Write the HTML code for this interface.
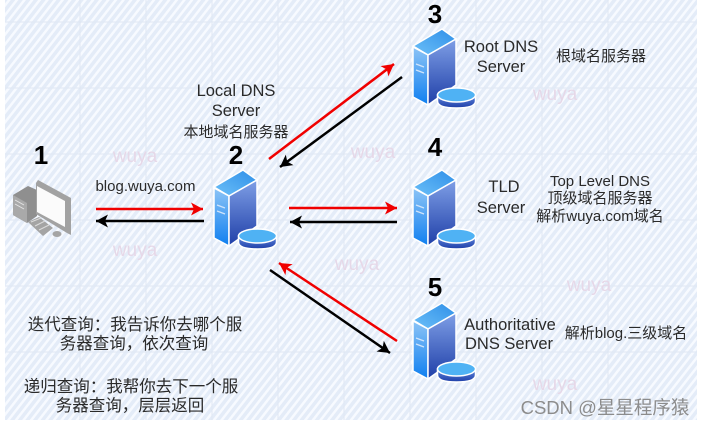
<!DOCTYPE html>
<html><head><meta charset="utf-8">
<style>
html,body{margin:0;padding:0;background:#fff}
svg{display:block}
text{font-family:"Liberation Sans","Noto Sans CJK SC",sans-serif;fill:#2a2a2a;font-size:16.500px;text-anchor:middle}
.n{font-size:26px;font-weight:bold;fill:#000}
.w{font-size:19px;fill:#e6d8e8;font-weight:normal}
.c{font-size:15px}
</style></head><body>
<svg width="706" height="426" viewBox="0 0 706 426" xmlns="http://www.w3.org/2000/svg">
<defs>
<pattern id="st" width="6" height="6" patternUnits="userSpaceOnUse" patternTransform="rotate(38)">
<rect width="6" height="6" fill="#e4ecf8"/><rect width="2.500" height="6" fill="#f7faff"/>
</pattern>
<linearGradient id="lf" x1="0" y1="0" x2="0" y2="1"><stop offset="0" stop-color="#8cc4f6"/><stop offset="1" stop-color="#0f7ff0"/></linearGradient>
<linearGradient id="rf" x1="0" y1="0" x2="0" y2="1"><stop offset="0" stop-color="#7f9fe6"/><stop offset="1" stop-color="#1f3fa8"/></linearGradient>
<linearGradient id="tp" x1="0" y1="1" x2="1" y2="0"><stop offset="0" stop-color="#6cc0f8"/><stop offset="1" stop-color="#2f8fe8"/></linearGradient>
<linearGradient id="ds" x1="0" y1="0" x2="0" y2="1"><stop offset="0" stop-color="#5f86dc"/><stop offset="1" stop-color="#1f3fa8"/></linearGradient>
<g id="srv">
<polygon points="214,187 243,170 257,180 229,196" fill="url(#tp)" stroke="#fff" stroke-width="1.500"/>
<polygon points="214,188 229,196 229,246 214,238" fill="url(#lf)" stroke="#fff" stroke-width="1.500"/>
<polygon points="229,196 257,180 257,226 229,246" fill="url(#rf)" stroke="#fff" stroke-width="1.500"/>
<path d="M217,205l8,3M217,211l8,3" stroke="#cfe4fb" stroke-width="1.300"/>
<path d="M238.500,236v6c0,5 8,7 19,7s19,-2 19,-7v-6z" fill="url(#ds)" stroke="#fff" stroke-width="1.500"/>
<ellipse cx="257.500" cy="236" rx="19" ry="7" fill="#4fb2f4" stroke="#fff" stroke-width="1.500"/>
</g>
<marker id="ar" markerUnits="userSpaceOnUse" markerWidth="13" markerHeight="13" refX="12" refY="6.500" orient="auto"><path d="M0,0L12,6.500L0,13L3,6.500z" fill="#f00000"/></marker>
<marker id="ak" markerUnits="userSpaceOnUse" markerWidth="13" markerHeight="13" refX="12" refY="6.500" orient="auto"><path d="M0,0L12,6.500L0,13L3,6.500z" fill="#000"/></marker>
</defs>
<rect x="5" width="692" height="420" fill="url(#st)"/>
<path d="M80,0V420M146,0V420M212,0V420M278,0V420M344,0V420M410,0V420M476,0V420M542,0V420M608,0V420M5,22H697M5,88H697M5,154H697M5,220H697M5,286H697M5,352H697" stroke="#dfe7f3" stroke-width="1" fill="none"/>

<text class="w" x="135" y="162">wuya</text>
<text class="w" x="135" y="256">wuya</text>
<text class="w" x="373" y="158">wuya</text>
<text class="w" x="357" y="270">wuya</text>
<text class="w" x="555" y="100">wuya</text>
<text class="w" x="589" y="291">wuya</text>
<text class="w" x="555" y="390">wuya</text>

<!-- computer -->
<g>
<polygon points="13,195 28,186 37,190 37,216 27,223 13,215" fill="#8f8f8f"/>
<polygon points="13,195 27,203 27,223 13,215" fill="#a9a9a9"/>
<path d="M15,200l9,5M15,204l9,5" stroke="#e4e4e4" stroke-width="1"/>
<polygon points="36,183 38,180 71,198 71,235 67,233 36,214" fill="#a2a2a2"/>
<polygon points="37,186 65,201 65,227 37,212" fill="#fbfbfb"/>
<polygon points="28,222 39,217 53,228 43,236" fill="#a4a4a4"/>
<path d="M31,222l10,-4M35,226l10,-5M39,230l10,-5" stroke="#dcdcdc" stroke-width="1"/>
<ellipse cx="57" cy="234" rx="4.500" ry="3" fill="#a5a5a5"/>
</g>

<use href="#srv"/>
<use href="#srv" x="199" y="-141"/>
<use href="#srv" x="199" y="0"/>
<use href="#srv" x="199" y="133"/>

<g fill="none" stroke-width="2.500">
<line x1="96" y1="209" x2="203" y2="209" stroke="#f00000" marker-end="url(#ar)"/>
<line x1="204" y1="221" x2="96" y2="221" stroke="#000" marker-end="url(#ak)"/>
<line x1="289" y1="208" x2="397" y2="208" stroke="#f00000" marker-end="url(#ar)"/>
<line x1="397" y1="222" x2="290" y2="222" stroke="#000" marker-end="url(#ak)"/>
<line x1="269" y1="159" x2="394" y2="64" stroke="#f00000" marker-end="url(#ar)"/>
<line x1="402" y1="77" x2="280" y2="167" stroke="#000" marker-end="url(#ak)"/>
<line x1="270" y1="270" x2="390" y2="353" stroke="#000" marker-end="url(#ak)"/>
<line x1="397" y1="341" x2="279" y2="263" stroke="#f00000" marker-end="url(#ar)"/>
</g>

<text class="n" x="41" y="164">1</text>
<text class="n" x="236" y="164">2</text>
<text class="n" x="435" y="23">3</text>
<text class="n" x="435" y="156">4</text>
<text class="n" x="435" y="296">5</text>

<text x="145.500" y="191" style="font-size:15px">blog.wuya.com</text>
<text x="236" y="96">Local DNS</text>
<text x="236" y="116">Server</text>
<text class="c" x="236" y="137">本地域名服务器</text>
<text x="501" y="52">Root DNS</text>
<text x="501" y="72">Server</text>
<text class="c" x="601" y="61">根域名服务器</text>
<text x="504" y="192">TLD</text>
<text x="501" y="213">Server</text>
<text class="c" x="600" y="186">Top Level DNS</text>
<text class="c" x="600" y="203">顶级域名服务器</text>
<text class="c" x="600" y="221">解析wuya.com域名</text>
<text x="510" y="330">Authoritative</text>
<text x="509" y="349">DNS Server</text>
<text class="c" x="626" y="338">解析blog.三级域名</text>

<text x="135" y="330">迭代查询：我告诉你去哪个服</text>
<text x="134" y="349">务器查询，依次查询</text>
<text x="131" y="392">递归查询：我帮你去下一个服</text>
<text x="130" y="411">务器查询，层层返回</text>

<text x="605" y="414" style="font-size:18.500px;fill:#8c8c8c">CSDN @星星程序猿</text>
</svg>
</body></html>
